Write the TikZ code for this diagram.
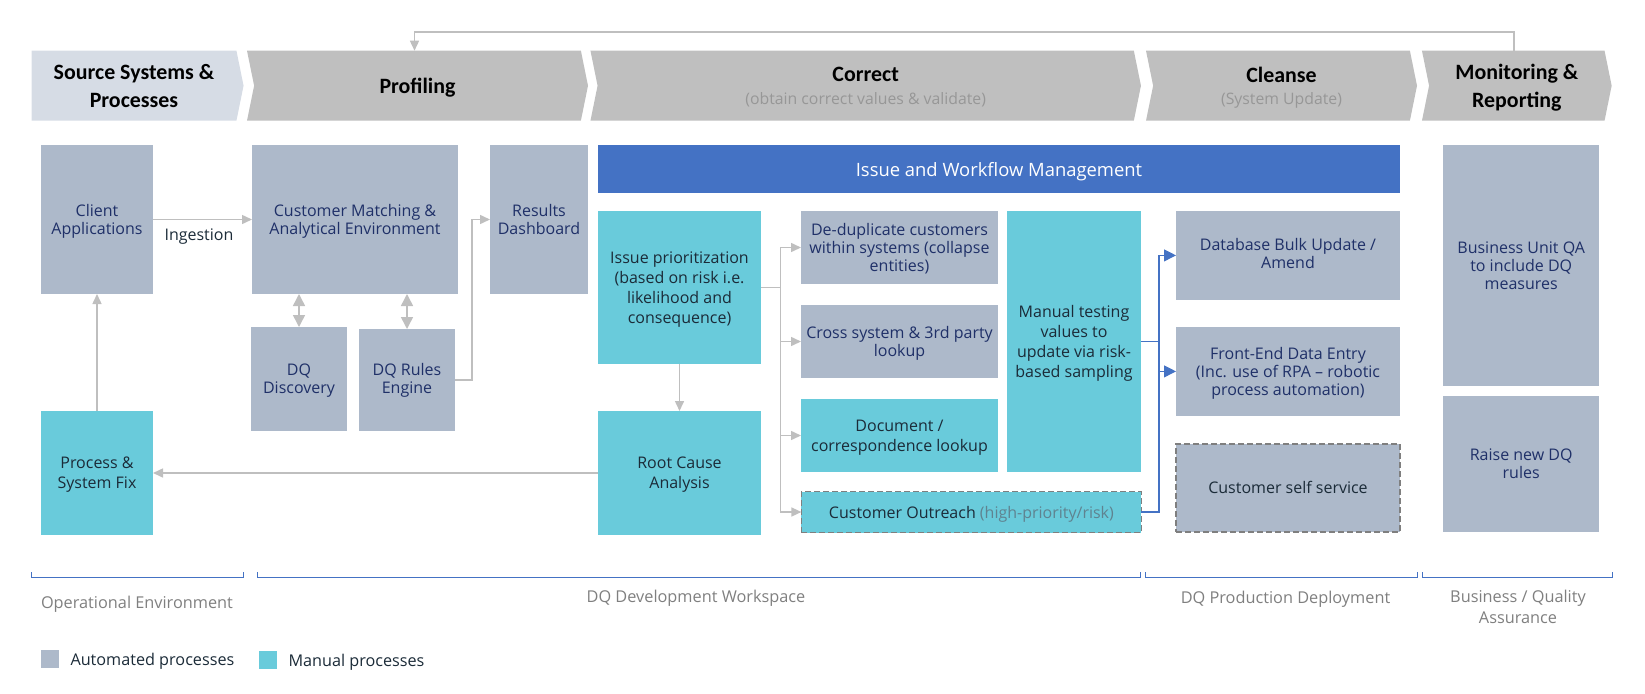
\documentclass[tikz,border=0pt]{standalone}
\usepackage{fontspec}
\setmainfont{Open Sans}
\newfontfamily\headfont{Carlito}
\usetikzlibrary{positioning, arrows.meta, shapes.symbols}
\definecolor{autofill}{HTML}{ADB9CA}
\definecolor{manualfill}{HTML}{69CBDB}
\definecolor{barblue}{HTML}{4472C4}
\definecolor{chevgray}{HTML}{BFBFBF}
\definecolor{chevpale}{HTML}{D6DCE5}
\definecolor{navytext}{HTML}{1F3068}
\definecolor{darktext}{HTML}{1B2B38}
\definecolor{subgray}{HTML}{979797}
\definecolor{labelgray}{HTML}{7F7F7F}
\definecolor{riskgray}{HTML}{5F8390}
\newcommand{\subtext}[1]{{\normalfont\fontsize{15.8}{16}\selectfont\textcolor{subgray}{#1}}}
\tikzset{
x=1pt, y=-1pt, % one unit is one pixel of the layout, y runs downwards
>={Triangle[length=10pt, width=9pt]}, % arrow heads of the connectors
boxbase/.style={inner sep=0pt, outer sep=0pt, align=center, text depth=0pt},
autobox/.style={boxbase, fill=autofill, text=navytext, font=\fontsize{16}{18}\selectfont},
manualbox/.style={boxbase, fill=manualfill, text=darktext, font=\fontsize{16}{20}\selectfont},
dashbox/.style={draw=labelgray, line width=1.8pt, dash pattern=on 6pt off 3pt},
chevron/.style={shape=signal, signal to=east, signal from=west, signal pointer angle=157,
    fill=chevgray, inner sep=0pt, outer sep=0pt, minimum height=70pt, align=center, text depth=-3pt,
    font=\headfont\bfseries\fontsize{21.9}{27.5}\selectfont},
grayline/.style={draw=chevgray, line width=1.5pt},
blueline/.style={draw=barblue, line width=1.1pt, >={Triangle[length=12pt, width=12pt]}},
bracket/.style={draw=barblue, line width=1pt},
footlabel/.style={text=labelgray, align=center, text depth=0pt, font=\fontsize{16.3}{21}\selectfont},
legendtext/.style={text=darktext, text depth=0pt, font=\fontsize{16.2}{18}\selectfont},
}
\begin{document}
\begin{tikzpicture}
    \useasboundingbox (0,0) rectangle (1645,693);
    % header chevrons
    \node[chevron, signal from=nowhere, fill=chevpale, minimum width=212pt] (source) at (134,85.7) {Source Systems \&\\Processes};
    \node[chevron, minimum width=341pt] (profiling) at (417.5,85.7) {Profiling};
    \node[chevron, minimum width=550.5pt] (correct) at (865.7,85.7) {Correct\\[-5pt]\subtext{(obtain correct values \& validate)}};
    \node[chevron, minimum width=271pt] (cleanse) at (1281.5,85.7) {Cleanse\\[-5pt]\subtext{(System Update)}};
    \node[chevron, minimum width=189.7pt] (monitoring) at (1516.8,85.7) {Monitoring \&\\Reporting};
    % profiling column
    \node[autobox, minimum width=112pt, minimum height=149pt] (client) at (97,219.5) {Client\\Applications};
    \node[autobox, minimum width=206pt, minimum height=149pt, right=99pt of client] (matching) {Customer Matching \&\\Analytical Environment};
    \node[autobox, minimum width=98pt, minimum height=149pt, right=32pt of matching] (results) {Results\\Dashboard};
    \node[autobox, minimum width=96pt, minimum height=104pt] (discovery) at (299,379) {DQ\\Discovery};
    \node[autobox, text depth=3pt, minimum width=96pt, minimum height=102pt] (rules) at (407,380) {DQ Rules\\Engine};
    \node[manualbox, minimum width=112pt, minimum height=124pt] (fix) at (97,473) {Process \&\\System Fix};
    \node[text=darktext, text depth=0pt, font=\fontsize{16}{18}\selectfont] (ingestion) at (199,235) {Ingestion};
    % correct column
    \node[boxbase, fill=barblue, text=white, font=\fontsize{18.4}{20}\selectfont, minimum width=802pt, minimum height=48pt] (workflow) at (999,169) {Issue and Workflow Management};
    \node[manualbox, minimum width=163pt, minimum height=153pt] (issue) at (679.5,287.5) {Issue prioritization\\(based on risk i.e.\\likelihood and\\consequence)};
    \node[manualbox, minimum width=163pt, minimum height=124pt, below=47pt of issue] (rootcause) {Root Cause\\Analysis};
    \node[autobox, minimum width=197pt, minimum height=73pt] (dedup) at (899.5,247.5) {De-duplicate customers\\within systems (collapse\\entities)};
    \node[autobox, minimum width=197pt, minimum height=73pt, below=21pt of dedup] (lookup) {Cross system \& 3rd party\\lookup};
    \node[manualbox, minimum width=197pt, minimum height=73pt, below=21pt of lookup] (document) {Document /\\correspondence lookup};
    \node[manualbox, dashbox, minimum width=340pt, minimum height=41pt] (outreach) at (971.4,512) {Customer Outreach \textcolor{riskgray}{(high-priority/risk)}};
    \node[manualbox, minimum width=134pt, minimum height=261pt] (testing) at (1074,341.5) {Manual testing\\values to\\update via risk-\\based sampling};
    % cleanse column
    \node[autobox, text depth=3pt, minimum width=224pt, minimum height=88.7pt] (database) at (1288,255.4) {Database Bulk Update /\\Amend};
    \node[autobox, minimum width=224pt, minimum height=88.7pt, below=27.3pt of database] (frontend) {Front-End Data Entry\\(Inc. use of RPA -- robotic\\process automation)};
    \node[autobox, dashbox, text=darktext, minimum width=224pt, minimum height=88pt, below=28pt of frontend] (selfservice) {Customer self service};
    % monitoring column
    \node[autobox, minimum width=156.5pt, minimum height=241pt] (qa) at (1521.2,265.5) {Business Unit QA\\to include DQ\\measures};
    \node[autobox, minimum width=156.5pt, minimum height=136pt, below=10pt of qa] (newrules) {Raise new DQ\\rules};
    % bend points of the connectors
    \coordinate (issuehub) at (780.7,287.5);
    \coordinate (testinghub) at (1159,341.5);
    \coordinate (rulesbend) at (472,380);
    % connectors
    \draw[grayline, ->] ([xshift=-3pt]monitoring.north) -- ++(0,-18.7) -| ([xshift=-3pt]profiling.north);
    \draw[grayline, ->] (client.east) -- (matching.west);
    \draw[grayline, <->, >={Triangle[length=12pt, width=12pt]}] (discovery.north) -- (discovery.north |- matching.south);
    \draw[grayline, <->, >={Triangle[length=12pt, width=12pt]}] (rules.north) -- (rules.north |- matching.south);
    \draw[grayline, ->] (rules.east) -- (rulesbend) |- (results.west);
    \draw[grayline, ->] (fix.north) -- (client.south);
    \draw[grayline, ->] (rootcause.west) -- (fix.east);
    \draw[grayline, ->] (issue.south) -- (rootcause.north);
    \draw[grayline, ->] (issue.east) -- (issuehub) |- (dedup.west);
    \draw[grayline, ->] (issuehub) |- (lookup.west);
    \draw[grayline, ->] (issuehub) |- (document.west);
    \draw[grayline, ->] (issuehub) |- (outreach.west);
    \draw[blueline, ->] (testing.east) -- (testinghub) |- (database.west);
    \draw[blueline, ->] (testinghub) |- (frontend.west);
    \draw[blueline] (outreach.east) -| (testinghub);
    % brackets and what they span
    \foreach \xa/\xb in {31.7/243, 257/1140, 1145/1417.7, 1422/1612.7}
        \draw[bracket] (\xa,572) |- (\xb,577) -- (\xb,572);
    \node[footlabel] (operational) at (137,602) {Operational Environment};
    \node[footlabel] (workspace) at (696,596.5) {DQ Development Workspace};
    \node[footlabel] (deployment) at (1285.5,597) {DQ Production Deployment};
    \node[footlabel] (assurance) at (1518,607) {Business / Quality\\Assurance};
    % legend
    \node[autobox, minimum size=18pt] (legendauto) at (50,659) {};
    \node[legendtext, right=8pt of legendauto] (legendautotext) {Automated processes};
    \node[manualbox, minimum size=18pt] (legendmanual) at (268,660) {};
    \node[legendtext, right=8pt of legendmanual] (legendmanualtext) {Manual processes};
\end{tikzpicture}
\end{document}
